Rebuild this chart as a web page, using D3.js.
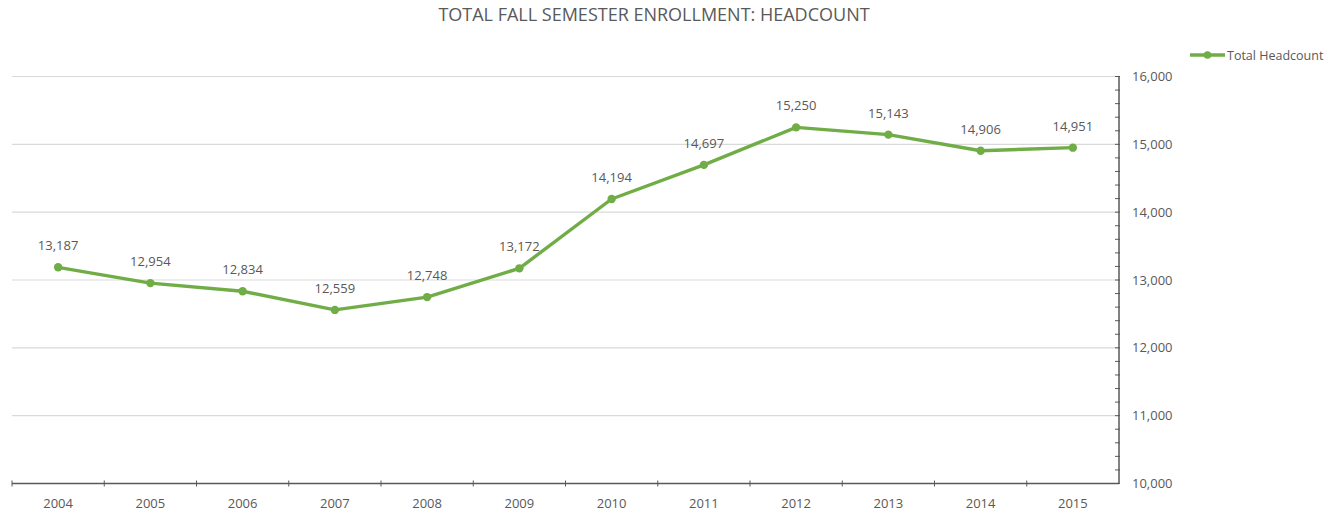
<!DOCTYPE html>
<html>
<head>
<meta charset="utf-8">
<script src="https://cdn.jsdelivr.net/npm/d3@7"></script>
<style>
  body { margin: 0; background: #fff; }
  text { font-family: "Open Sans", "DejaVu Sans", sans-serif; fill: #595959; }
</style>
</head>
<body>
<svg width="1341" height="512"></svg>
<script>
// dati
const years = ["2004", "2005", "2006", "2007", "2008", "2009", "2010", "2011", "2012", "2013", "2014", "2015"];
const headcount = [13187, 12954, 12834, 12559, 12748, 13172, 14194, 14697, 15250, 15143, 14906, 14951];
const yTicks = [10000, 11000, 12000, 13000, 14000, 15000, 16000];
const seriesName = "Total Headcount";
const titleText = "TOTAL FALL SEMESTER ENROLLMENT: HEADCOUNT";

const svg = d3.select("svg");
const width = +svg.attr("width");
const green = "#70ad47";

const plotLeft = 12, plotRight = 1119, plotTop = 76.5, plotBottom = 483.5;

const xScale = d3.scaleBand().domain(years).range([plotLeft, plotRight]);
const yScale = d3.scaleLinear().domain([10000, 16000]).range([plotBottom, plotTop]);

// titolo
svg.append("text")
  .attr("x", 654)
  .attr("y", 21)
  .attr("text-anchor", "middle")
  .attr("font-size", "18px")
  .text(titleText);

// griglia orizzontale
svg.append("g")
  .selectAll("line")
  .data(yTicks.slice(1))
  .join("line")
  .attr("x1", plotLeft)
  .attr("x2", plotRight)
  .attr("y1", d => yScale(d))
  .attr("y2", d => yScale(d))
  .attr("stroke", "#d9d9d9")
  .attr("stroke-width", 1.2);

// asse y a destra con tick minori
const minor = d3.range(10000, 16001, 200);
svg.append("g")
  .selectAll("line")
  .data(minor)
  .join("line")
  .attr("x1", plotRight - 4)
  .attr("x2", plotRight + 1)
  .attr("y1", d => yScale(d))
  .attr("y2", d => yScale(d))
  .attr("stroke", "#595959")
  .attr("stroke-width", 1);

svg.append("line")
  .attr("x1", plotRight).attr("x2", plotRight)
  .attr("y1", plotTop).attr("y2", plotBottom)
  .attr("stroke", "#595959")
  .attr("stroke-width", 1.5);

svg.append("g")
  .selectAll("text")
  .data(yTicks)
  .join("text")
  .attr("x", plotRight + 13)
  .attr("y", d => yScale(d) + 4.5)
  .attr("font-size", "13px")
  .text(d3.format(","));

// asse x
svg.append("line")
  .attr("x1", plotLeft).attr("x2", plotRight)
  .attr("y1", plotBottom).attr("y2", plotBottom)
  .attr("stroke", "#595959")
  .attr("stroke-width", 1.5);

const bounds = years.map(y => xScale(y));
svg.append("g")
  .selectAll("line")
  .data(bounds)
  .join("line")
  .attr("x1", d => d).attr("x2", d => d)
  .attr("y1", plotBottom - 3).attr("y2", plotBottom + 3)
  .attr("stroke", "#595959")
  .attr("stroke-width", 1);

svg.append("g")
  .selectAll("text")
  .data(years)
  .join("text")
  .attr("x", d => xScale(d) + xScale.bandwidth() / 2)
  .attr("y", plotBottom + 24)
  .attr("text-anchor", "middle")
  .attr("font-size", "13px")
  .text(d => d);

// linea
const points = years.map((y, i) => ({ year: y, value: headcount[i] }));
const line = d3.line()
  .x(d => xScale(d.year) + xScale.bandwidth() / 2)
  .y(d => yScale(d.value));

svg.append("path")
  .datum(points)
  .attr("d", line)
  .attr("fill", "none")
  .attr("stroke", green)
  .attr("stroke-width", 3.4)
  .attr("stroke-linejoin", "round");

svg.append("g")
  .selectAll("circle")
  .data(points)
  .join("circle")
  .attr("cx", d => xScale(d.year) + xScale.bandwidth() / 2)
  .attr("cy", d => yScale(d.value))
  .attr("r", 4.2)
  .attr("fill", green);

// etichette dei valori
svg.append("g")
  .selectAll("text")
  .data(points)
  .join("text")
  .attr("x", d => xScale(d.year) + xScale.bandwidth() / 2)
  .attr("y", d => yScale(d.value) - 17)
  .attr("text-anchor", "middle")
  .attr("font-size", "13px")
  .text(d => d3.format(",")(d.value));

// legenda
const lg = svg.append("g").attr("transform", "translate(1190, 55)");
lg.append("line")
  .attr("x1", 0).attr("x2", 35)
  .attr("stroke", green)
  .attr("stroke-width", 3.4);
lg.append("circle")
  .attr("cx", 17.5)
  .attr("r", 3.8)
  .attr("fill", green);
lg.append("text")
  .attr("x", 37)
  .attr("y", 4.5)
  .attr("font-size", "12.5px")
  .text(seriesName);
</script>
</body>
</html>
